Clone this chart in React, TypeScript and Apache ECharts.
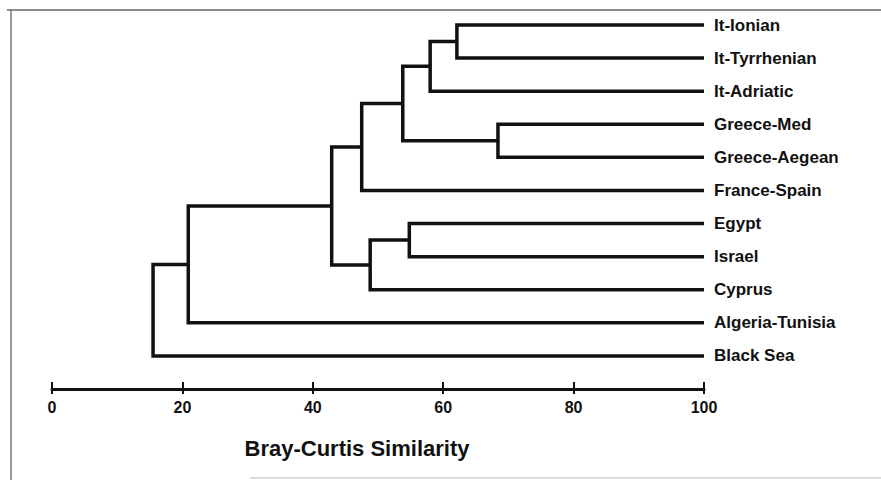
import React, { useEffect, useRef } from "react";
import * as echarts from "echarts";

// Leaves of the dendrogram (top to bottom)
const leaves = [
  "It-Ionian",
  "It-Tyrrhenian",
  "It-Adriatic",
  "Greece-Med",
  "Greece-Aegean",
  "France-Spain",
  "Egypt",
  "Israel",
  "Cyprus",
  "Algeria-Tunisia",
  "Black Sea",
];

// Linkage: node ids 0..10 are leaves, 11+ are clusters created in order
const mergeLeft = [0, 11, 3, 12, 14, 6, 16, 15, 18, 19];
const mergeRight = [1, 2, 4, 13, 5, 7, 8, 17, 9, 10];
const mergeSimilarity = [62.1, 58.0, 68.4, 53.8, 47.5, 54.8, 48.8, 42.9, 20.9, 15.5];

const leafSimilarity = 100;
const xTicks = [0, 20, 40, 60, 80, 100];
const axisTitle = "Bray-Curtis Similarity";

function buildSegments() {
  const ys: number[] = leaves.map((_, i) => i);
  const hs: number[] = leaves.map(() => leafSimilarity);
  const out: number[][] = [];
  for (let k = 0; k < mergeLeft.length; k++) {
    const a = mergeLeft[k];
    const b = mergeRight[k];
    const h = mergeSimilarity[k];
    out.push([h, ys[a], ys[b], hs[a], hs[b]]);
    ys.push((ys[a] + ys[b]) / 2);
    hs.push(h);
  }
  return out;
}

export default function App() {
  const ref = useRef<HTMLDivElement>(null);
  useEffect(() => {
    if (!ref.current) return;
    const chart = echarts.init(ref.current, undefined, { renderer: "svg" });
    const segs = buildSegments();
    const font = "'Liberation Sans', Arial, Helvetica, sans-serif";
    const gridBox = { left: 52, right: 177, top: 25, height: 364, containLabel: false };
    chart.setOption({
      animation: false,
      backgroundColor: "#ffffff",
      grid: [gridBox, { ...gridBox }],
      xAxis: [
        {
          type: "value",
          gridIndex: 0,
          min: 0,
          max: 100,
          interval: 20,
          position: "bottom",
          axisLine: { show: true, onZero: false, lineStyle: { color: "#111", width: 3 } },
          axisTick: { show: true, inside: false, length: 5, lineStyle: { color: "#111", width: 2 } },
          axisLabel: {
            show: true,
            margin: 10,
            color: "#111",
            fontSize: 16,
            fontWeight: "bold",
            fontFamily: font,
            formatter: (v: number) => (xTicks.indexOf(v) >= 0 ? String(v) : ""),
          },
          splitLine: { show: false },
        },
        {
          type: "value",
          gridIndex: 1,
          min: 0,
          max: 100,
          interval: 20,
          position: "bottom",
          axisLine: { show: false, onZero: false },
          axisTick: { show: true, inside: true, length: 7, lineStyle: { color: "#111", width: 2 } },
          axisLabel: { show: false },
          splitLine: { show: false },
        },
      ],
      yAxis: [
        {
          type: "value",
          gridIndex: 0,
          min: 0,
          max: 11,
          interval: 1,
          inverse: true,
          position: "right",
          axisLine: { show: false, onZero: false },
          axisTick: { show: false },
          splitLine: { show: false },
          axisLabel: {
            show: true,
            margin: 10,
            color: "#111",
            fontSize: 17,
            fontWeight: "bold",
            fontFamily: font,
            formatter: (v: number) => leaves[v] ?? "",
          },
        },
        {
          type: "value",
          gridIndex: 1,
          min: 0,
          max: 11,
          inverse: true,
          show: false,
        },
      ],
      graphic: [
        {
          type: "line",
          shape: { x1: 7, y1: 10, x2: 881, y2: 10 },
          style: { stroke: "#666", lineWidth: 1.5 },
        },
        {
          type: "line",
          shape: { x1: 11, y1: 10, x2: 11, y2: 480 },
          style: { stroke: "#777", lineWidth: 1.5 },
        },
        {
          type: "line",
          shape: { x1: 250, y1: 478, x2: 881, y2: 478 },
          style: { stroke: "#d0d0d0", lineWidth: 1.5 },
        },
        {
          type: "text",
          x: 357,
          y: 448,
          style: {
            text: axisTitle,
            fill: "#111",
            font: `bold 22px ${font}`,
            align: "center",
            verticalAlign: "middle",
          },
        },
      ],
      series: [
        {
          type: "custom",
          xAxisIndex: 0,
          yAxisIndex: 0,
          coordinateSystem: "cartesian2d",
          encode: { x: [0, 3, 4], y: [1, 2] },
          data: segs,
          renderItem: (_params: any, api: any) => {
            const h = api.value(0);
            const ya = api.value(1);
            const yb = api.value(2);
            const ha = api.value(3);
            const hb = api.value(4);
            const pts = [
              api.coord([ha, ya]),
              api.coord([h, ya]),
              api.coord([h, yb]),
              api.coord([hb, yb]),
            ];
            return {
              type: "polyline",
              shape: { points: pts },
              style: { stroke: "#111", lineWidth: 3.5, fill: "none", lineJoin: "miter" },
            };
          },
        },
      ],
    });
    return () => chart.dispose();
  }, []);
  return (
    <div
      ref={ref}
      style={{ position: "fixed", left: 0, top: 0, width: 881, height: 480, background: "#fff" }}
    />
  );
}
